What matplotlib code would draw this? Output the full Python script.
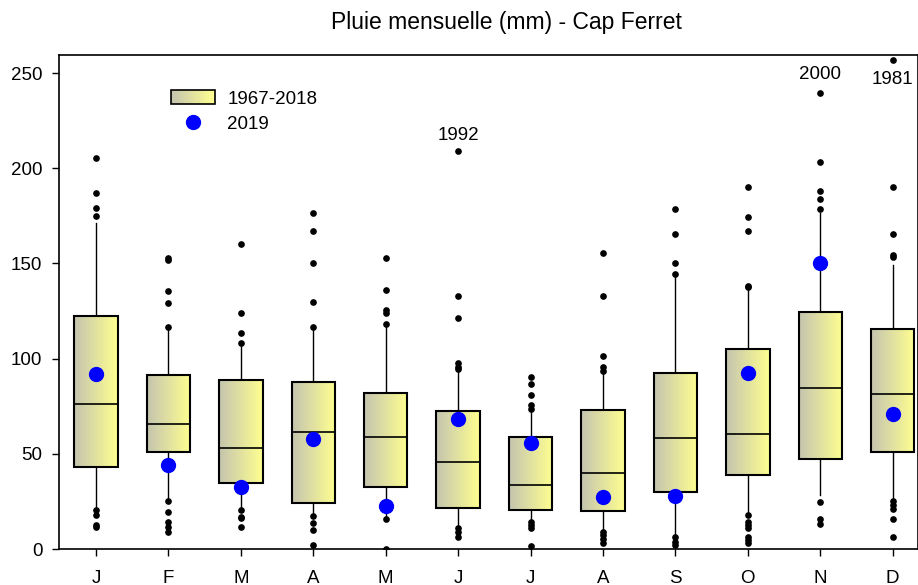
import numpy as np
import matplotlib.pyplot as plt
from matplotlib.patches import Rectangle
from matplotlib.legend_handler import HandlerBase
from matplotlib.colors import LinearSegmentedColormap

plt.rcParams['font.family'] = ['Liberation Sans', 'DejaVu Sans']

# Statistiques mensuelles 1967-2018
months = ["J", "F", "M", "A", "M", "J", "J", "A", "S", "O", "N", "D"]
q1 = [43, 51, 34.8, 24, 32.7, 21.5, 20.5, 20.1, 30, 39, 47.1, 51.1]
med = [76, 65.8, 53.2, 61.4, 59, 45.7, 33.8, 39.7, 58.3, 60.6, 84.8, 81.4]
q3 = [122.5, 91.2, 88.8, 87.9, 82.1, 72.6, 59, 73, 92.6, 105.2, 124.5, 115.7]
whislo = [21, 25, 20.5, 17.3, 15.6, 11, 14.2, 9, 6.5, 18, 28.4, 25.7]
whishi = [171.4, 116.8, 108.4, 116.4, 118, 94.4, 73.7, 93.7, 144.4, 137.4, 176.7, 149]
fliers = [
    [205.2, 186.8, 178.9, 175, 20.5, 17.9, 12.6, 11.7],
    [153, 152, 135.3, 129.2, 116.8, 25, 19.6, 14.3, 11.5, 9],
    [160, 124.1, 113.6, 108.4, 20.5, 17, 16.1, 11.6],
    [176.7, 167, 150.4, 129.9, 116.4, 17.3, 13.8, 10, 2.3],
    [152.7, 136, 125.8, 123.8, 118, 15.6, 0],
    [209, 133, 121.3, 97.5, 95.8, 94.4, 11, 9, 6.5],
    [90.2, 86.7, 80.7, 75.5, 73.7, 14.2, 12.4, 11, 1.6],
    [155.6, 133, 101.4, 95.8, 93.7, 9, 7.2, 5.1, 3],
    [178.8, 165.4, 150.4, 144.4, 6.5, 3.7, 1.9],
    [190, 174.3, 167.2, 138.1, 137.4, 18, 14.2, 12.4, 11, 6.5, 4.7, 3],
    [239.3, 203.3, 188.3, 183.8, 178.8, 24.5, 15.6, 13.1],
    [256.8, 190, 165.4, 154.2, 153.2, 25.2, 23.1, 20.8, 15.8, 6.5],
]
pluie_2019 = [92, 44.3, 32.7, 57.6, 22.8, 68.5, 55.8, 27.5, 27.8, 92.3, 150, 70.7]

# annees des valeurs extremes annotees : (mois, valeur, annee)
extremes = [(6, 209, "1992"), (11, 239.3, "2000"), (12, 256.8, "1981")]
label_offsets = [11, 14, -14]

cmap = LinearSegmentedColormap.from_list("gris_jaune", ["#c4c4b0", "#ffff90"])
pos = np.arange(1, 13)
w = 0.6
fs = 13.5


class GradientProxy(Rectangle):
    pass


class GradientHandler(HandlerBase):
    def create_artists(self, legend, orig_handle, xdescent, ydescent,
                       width, height, fontsize, trans):
        n = 40
        arts = []
        for i in range(n):
            arts.append(Rectangle((-xdescent + width * i / n, -ydescent),
                                  width / n * 1.05, height,
                                  facecolor=cmap(i / (n - 1)),
                                  edgecolor="none", transform=trans))
        arts.append(Rectangle((-xdescent, -ydescent), width, height,
                              facecolor="none", edgecolor="black",
                              linewidth=1.2, transform=trans))
        return arts


fig = plt.figure(figsize=(9.18, 5.85), dpi=100)
ax = fig.add_axes([59 / 918, 36 / 585, (918 - 59) / 918, (549 - 55) / 585])

stats = []
for i in range(12):
    stats.append(dict(label=months[i], q1=q1[i], med=med[i], q3=q3[i],
                      whislo=whislo[i], whishi=whishi[i], fliers=fliers[i]))

bp = ax.bxp(stats, positions=pos, widths=w, patch_artist=True, showcaps=False,
            boxprops=dict(facecolor="none", edgecolor="black", linewidth=1.5, zorder=2.5),
            medianprops=dict(color="black", linewidth=1.2, zorder=2.6),
            whiskerprops=dict(color="black", linewidth=1),
            flierprops=dict(marker="o", markerfacecolor="black",
                            markeredgecolor="black", markersize=3.8))

grad = np.linspace(0, 1, 256).reshape(1, -1)
for i, box in enumerate(bp["boxes"]):
    im = ax.imshow(grad, cmap=cmap, aspect="auto", zorder=2,
                   extent=(pos[i] - w / 2, pos[i] + w / 2, q1[i], q3[i]))
    im.set_clip_path(box)

ax.plot(pos, pluie_2019, "o", color="blue", markersize=10, linestyle="none",
        zorder=4, label="2019")

for (m, v, yr), off in zip(extremes, label_offsets):
    ax.annotate(yr, xy=(m, v), xytext=(0, off), textcoords="offset points",
                ha="center", va="center", fontsize=fs)

ax.set_xlim(0.489, 12.35)
ax.set_ylim(0, 259.5)
ax.set_xticks(pos)
ax.set_xticklabels(months, fontsize=fs)
ax.set_yticks([0, 50, 100, 150, 200, 250])
ax.tick_params(axis="y", labelsize=fs, length=5, width=1, pad=7)
ax.tick_params(axis="x", labelsize=fs, length=5, width=1, pad=10)
for s in ax.spines.values():
    s.set_linewidth(1.2)

proxy = GradientProxy((0, 0), 1, 1)
handles = [proxy, ax.lines[-1]]
ax.legend(handles, ["1967-2018", "2019"], handler_map={GradientProxy: GradientHandler()},
          loc="upper left", bbox_to_anchor=(0.1305, 0.929), frameon=False,
          borderpad=0, borderaxespad=0, handlelength=2.35, handleheight=0.8,
          handletextpad=0.64, labelspacing=0.42, fontsize=fs)

fig.text(506 / 918, 1 - 22 / 585, "Pluie mensuelle (mm) - Cap Ferret",
         ha="center", va="center", fontsize=16.5)

fig.savefig("out.png", dpi=100)
